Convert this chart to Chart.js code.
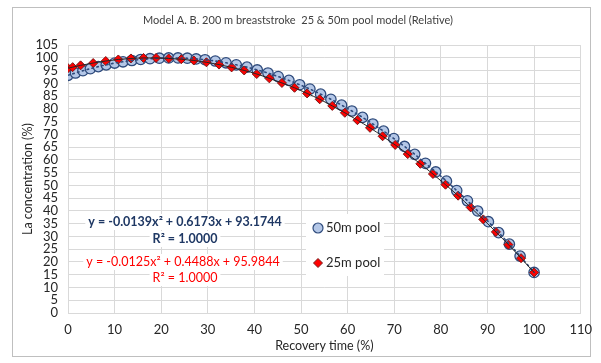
<!DOCTYPE html>
<html>
<head>
<meta charset="utf-8">
<script src="https://cdn.jsdelivr.net/npm/chart.js@4.4.1/dist/chart.umd.min.js"></script>
<style>
  html, body { margin: 0; padding: 0; background: #ffffff; }
  #wrap { width: 601px; height: 363px; position: relative; }
  canvas { display: block; }
</style>
</head>
<body>
<div id="wrap"><canvas id="c" width="601" height="363"></canvas></div>
<script>
// ---- Data ----
const pool50X = [0, 1.6, 3.2, 4.8, 6.5, 8.2, 10.0, 11.8, 13.7, 15.6, 17.6, 19.6, 21.6, 23.6, 25.6, 27.5,
  29.4, 31.6, 33.9, 36.1, 38.4, 40.6, 42.9, 45.1, 47.4, 49.7, 51.9, 54.2, 56.4, 58.7, 60.9, 63.2,
  65.4, 67.7, 69.9, 72.2, 74.4, 76.7, 78.9, 81.2, 83.4, 85.7, 87.9, 90.2, 92.4, 94.7, 97.0, 100];
const pool50Y = [93.2, 94.1, 95.0, 95.8, 96.6, 97.3, 98.0, 98.5, 99.0, 99.4, 99.7, 99.9, 100.0, 100.0, 99.9, 99.6,
  99.3, 98.8, 98.1, 97.3, 96.4, 95.3, 94.1, 92.7, 91.2, 89.5, 87.8, 85.8, 83.8, 81.5, 79.2, 76.7,
  74.1, 71.3, 68.4, 65.3, 62.2, 58.7, 55.3, 51.7, 48.0, 44.0, 40.0, 35.8, 31.5, 27.0, 22.3, 15.9];
const pool25X = [0, 1.0, 2.7, 5.4, 8.1, 10.8, 13.5, 16.2, 18.9, 21.6, 24.3, 27.0, 29.7, 32.4, 35.1, 37.8,
  40.5, 43.2, 45.9, 48.6, 51.3, 54.0, 56.7, 59.4, 62.1, 64.8, 67.5, 70.2, 72.9, 75.6, 78.3, 81.0,
  83.7, 86.4, 89.1, 91.8, 94.5, 97.2, 100];
const pool25Y = [96.0, 96.4, 97.1, 98.0, 98.8, 99.4, 99.8, 100.0, 100.0, 99.8, 99.5, 99.0, 98.3, 97.4, 96.3, 95.1,
  93.7, 92.0, 90.2, 88.3, 86.1, 83.8, 81.2, 78.5, 75.6, 72.6, 69.3, 65.9, 62.3, 58.5, 54.5, 50.3,
  46.0, 41.4, 36.7, 31.8, 26.8, 21.5, 15.9];
const seriesNames = ["50m pool", "25m pool"];
const eq50 = ["y = -0.0139x² + 0.6173x + 93.1744", "R² = 1.0000"];
const eq25 = ["y = -0.0125x² + 0.4488x + 95.9844", "R² = 1.0000"];
const titleText = "Model A. B. 200 m breaststroke  25 & 50m pool model (Relative)";
const xTitle = "Recovery time (%)";
const yTitle = "La concentration (%)";
const xMin = 0, xMax = 110, xStep = 10;
const yMin = 0, yMax = 105, yStep = 5;

// ---- styles ----
const FONT = "Lato, 'Open Sans', sans-serif";
const blueFill = "#B4C7E7", blueEdge = "#2F4B7C";
const redFill = "#FF0000", redEdge = "#7A1A1A";
const navy = "#1F3864", red = "#FF0000";

function pts(xs, ys) { return xs.map((x, i) => ({ x: x, y: ys[i] })); }

const framePlugin = {
  id: 'frame',
  beforeDraw(chart) {
    const ctx = chart.ctx;
    ctx.save();
    ctx.fillStyle = '#ffffff';
    ctx.fillRect(0, 0, chart.width, chart.height);
    ctx.strokeStyle = '#BFBFBF';
    ctx.lineWidth = 1;
    ctx.strokeRect(12.5, 7.5, 578, 349);
    ctx.restore();
  }
};

function textBox(ctx, text, cx, cy, font, color) {
  ctx.font = font;
  const w = ctx.measureText(text).width;
  ctx.fillStyle = '#ffffff';
  ctx.fillRect(cx - w / 2 - 3, cy - 8, w + 6, 16);
  ctx.fillStyle = color;
  ctx.textAlign = 'center';
  ctx.textBaseline = 'middle';
  ctx.fillText(text, cx, cy);
}

const annoPlugin = {
  id: 'anno',
  beforeDatasetsDraw(chart) {
    const ctx = chart.ctx;
    ctx.save();
    textBox(ctx, eq50[0], 185, 222, "bold 12.5px " + FONT, navy);
    textBox(ctx, eq50[1], 185, 239, "bold 12.5px " + FONT, navy);
    textBox(ctx, eq25[0], 183, 262, "12.5px " + FONT, red);
    textBox(ctx, eq25[1], 185, 278, "12.5px " + FONT, red);
    // legend
    ctx.fillStyle = '#ffffff';
    ctx.fillRect(306, 214, 78, 62);
    ctx.beginPath();
    ctx.arc(318, 228, 5, 0, Math.PI * 2);
    ctx.fillStyle = blueFill; ctx.fill();
    ctx.lineWidth = 1.2; ctx.strokeStyle = blueEdge; ctx.stroke();
    ctx.beginPath();
    ctx.moveTo(318, 258.5); ctx.lineTo(322.5, 263); ctx.lineTo(318, 267.5); ctx.lineTo(313.5, 263); ctx.closePath();
    ctx.fillStyle = redFill; ctx.fill();
    ctx.lineWidth = 1; ctx.strokeStyle = redEdge; ctx.stroke();
    ctx.font = "13px " + FONT;
    ctx.fillStyle = '#262626';
    ctx.textAlign = 'left'; ctx.textBaseline = 'middle';
    ctx.fillText(seriesNames[0], 326, 228);
    ctx.fillText(seriesNames[1], 326, 263);
    ctx.restore();
  }
};

const xTicks = [];
for (let v = xMin; v <= xMax; v += xStep) xTicks.push(v);
const yTicks = [];
for (let v = yMin; v <= yMax; v += yStep) yTicks.push(v);

new Chart(document.getElementById('c'), {
  type: 'scatter',
  data: {
    datasets: [
      {
        label: seriesNames[1] + ' trend',
        data: pts(pool25X, pool25Y),
        showLine: true, pointRadius: 0, borderColor: '#262626', borderWidth: 1,
        cubicInterpolationMode: 'monotone', order: 0
      },
      {
        label: seriesNames[0] + ' trend',
        data: pts(pool50X, pool50Y),
        showLine: true, pointRadius: 0, borderColor: '#2F4B7C', borderWidth: 1.6,
        borderDash: [1.5, 3.5], borderCapStyle: 'round',
        cubicInterpolationMode: 'monotone', order: 0
      },
      {
        label: seriesNames[1],
        data: pts(pool25X, pool25Y),
        pointStyle: 'rectRot', pointRadius: 4.5, pointBackgroundColor: redFill,
        pointBorderColor: redEdge, pointBorderWidth: 1, showLine: false, order: 1
      },
      {
        label: seriesNames[0],
        data: pts(pool50X, pool50Y),
        pointStyle: 'circle', pointRadius: 5.2, pointBackgroundColor: blueFill,
        pointBorderColor: blueEdge, pointBorderWidth: 1.3, showLine: false, order: 2
      }
    ]
  },
  options: {
    responsive: false,
    animation: false,
    events: [],
    layout: { padding: { left: 14, right: 19, top: 8, bottom: 5 } },
    plugins: {
      legend: { display: false },
      tooltip: { enabled: false },
      title: {
        display: true, text: titleText, color: '#404040',
        font: { family: FONT, size: 11, weight: 'normal' }, padding: { top: 6, bottom: 18 }
      }
    },
    scales: {
      x: {
        type: 'linear', min: xMin, max: xMax,
        afterBuildTicks(s) { s.ticks = xTicks.map(v => ({ value: v })); },
        afterFit(s) { s.height = 45; },
        grid: { color: '#D9D9D9', drawTicks: false },
        border: { display: true, color: '#D9D9D9' },
        ticks: { color: '#262626', font: { family: FONT, size: 13 }, padding: 9, maxRotation: 0, autoSkip: false },
        title: { display: true, text: xTitle, color: '#262626', font: { family: FONT, size: 12.5 }, padding: { top: 0, bottom: 5 } }
      },
      y: {
        type: 'linear', min: yMin, max: yMax,
        afterBuildTicks(s) { s.ticks = yTicks.map(v => ({ value: v })); },
        afterFit(s) { s.width = 54; },
        grid: { color: '#D9D9D9', drawTicks: false },
        border: { display: true, color: '#D9D9D9' },
        ticks: { color: '#262626', font: { family: FONT, size: 13 }, padding: 10, autoSkip: false },
        title: { display: true, text: yTitle, color: '#262626', font: { family: FONT, size: 12.5 }, padding: { top: 6, bottom: 0 } }
      }
    }
  },
  plugins: [framePlugin, annoPlugin]
});
</script>
</body>
</html>
